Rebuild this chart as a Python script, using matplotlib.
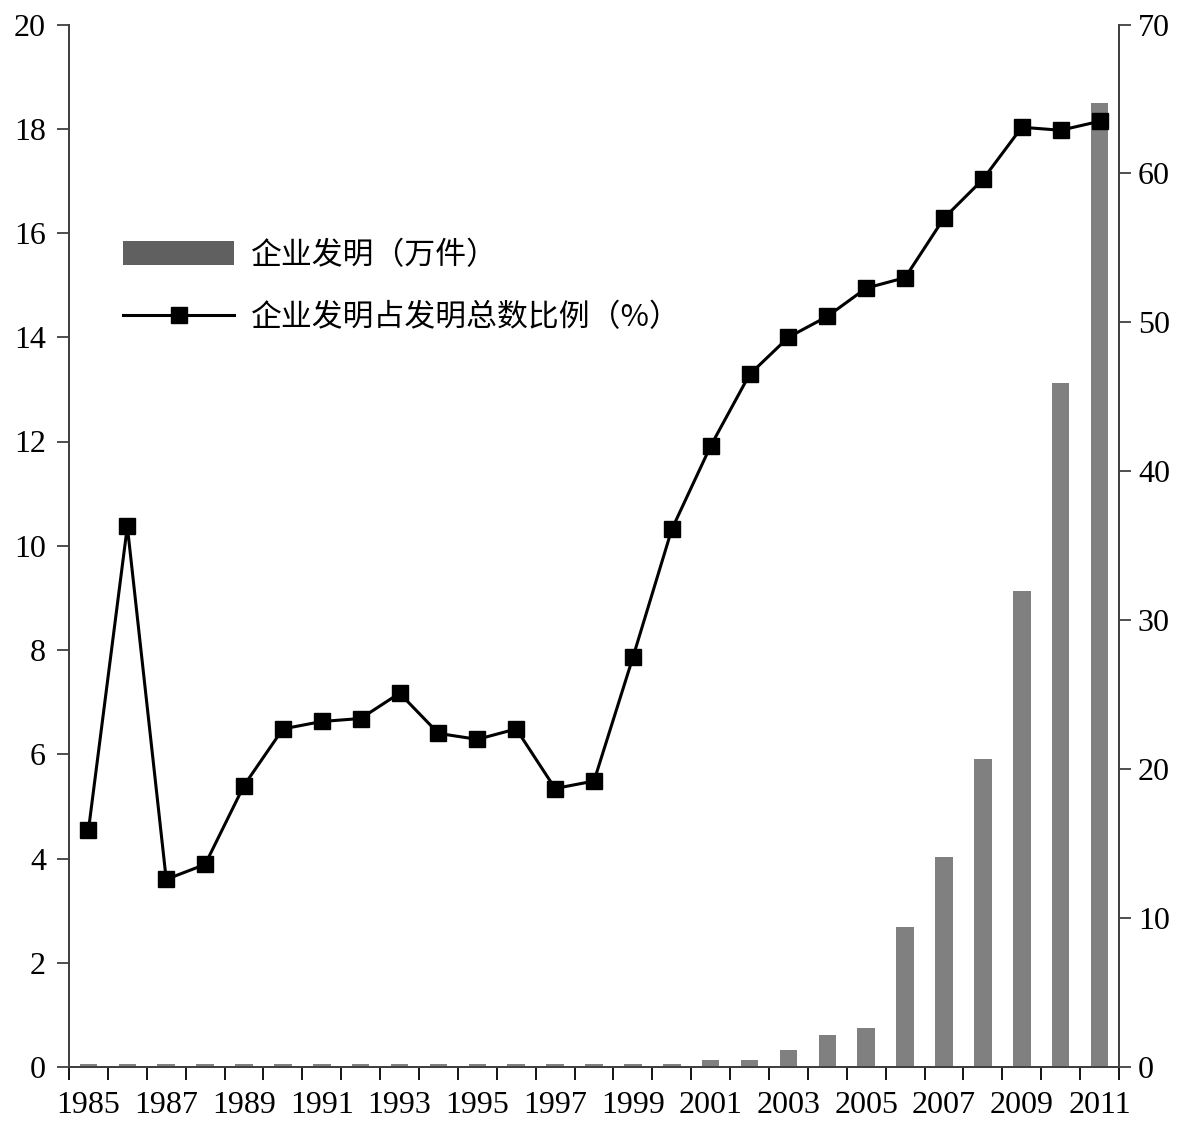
import matplotlib
matplotlib.use("Agg")
import matplotlib.pyplot as plt
from matplotlib.patches import Patch
from matplotlib.lines import Line2D

plt.rcParams['font.family'] = ['Liberation Serif', 'Noto Sans CJK SC', 'DejaVu Sans']

years = list(range(1985, 2012))
invention_wan = [0.06, 0.06, 0.06, 0.06, 0.06, 0.06, 0.06, 0.06, 0.06, 0.06,
                 0.06, 0.06, 0.06, 0.06, 0.06, 0.06, 0.13, 0.13, 0.33, 0.61,
                 0.75, 2.68, 4.02, 5.91, 9.13, 13.13, 18.5]
share_pct = [15.9, 36.3, 12.6, 13.6, 18.9, 22.7, 23.2, 23.4, 25.1, 22.4,
             22.0, 22.7, 18.7, 19.2, 27.5, 36.1, 41.7, 46.5, 49.0, 50.4,
             52.3, 53.0, 57.0, 59.6, 63.1, 62.9, 63.5]
label_bar = "企业发明（万件）"
label_line = "企业发明占发明总数比例（%）"
left_ticks = [0, 2, 4, 6, 8, 10, 12, 14, 16, 18, 20]
right_ticks = [0, 10, 20, 30, 40, 50, 60, 70]

fig = plt.figure(figsize=(11.93, 11.39), dpi=100)
ax = fig.add_axes([69/1193, 1 - 1067/1139, (1119 - 69)/1193, (1067 - 24.5)/1139])
ax2 = ax.twinx()

x = list(range(len(years)))
bar_color = '#808080'
ax.bar(x, invention_wan, width=0.45, color=bar_color, zorder=2)
ax2.plot(x, share_pct, color='black', lw=2.2, marker='s', markersize=12,
         markerfacecolor='black', markeredgecolor='black', zorder=3)

ax.set_xlim(-0.5, len(years) - 0.5)
ax.set_ylim(0, 20)
ax2.set_ylim(0, 70)

spine_color = '#404040'
for a in (ax, ax2):
    a.spines['top'].set_visible(False)
    for s in ('left', 'right', 'bottom'):
        a.spines[s].set_color(spine_color)
        a.spines[s].set_linewidth(1.3)

# x ticks: boundaries as major (no label), labels at category centers
ax.set_xticks([i - 0.5 for i in range(len(years) + 1)])
ax.set_xticklabels([])
ax.tick_params(axis='x', which='major', direction='out', length=9, width=1.3, color='black')
ax.set_xticks(x[::2], minor=True)
ax.set_xticklabels([str(y) for y in years[::2]], minor=True)
ax.tick_params(axis='x', which='minor', length=0, pad=17, labelsize=23)

ax.set_yticks(left_ticks)
ax.set_yticklabels([str(t) for t in left_ticks])
ax.tick_params(axis='y', direction='out', length=8.6, width=1.3, color=spine_color,
               pad=8, labelsize=23)
ax2.set_yticks(right_ticks)
ax2.set_yticklabels([str(t) for t in right_ticks])
ax2.tick_params(axis='y', direction='out', length=8.6, width=1.3, color=spine_color,
                pad=5, labelsize=23)

handles = [Patch(facecolor='#606060', edgecolor='none'),
           Line2D([0], [0], color='black', lw=2.2, marker='s', markersize=12)]
leg = ax2.legend(handles, [label_bar, label_line], loc='upper left',
                 bbox_to_anchor=((123 - 69) / 1050, (1067 - 240) / 1042.5),
                 frameon=False, handlelength=3.6, handleheight=0.8,
                 handletextpad=0.55, labelspacing=1.0, borderaxespad=0, borderpad=0,
                 prop={'family': ['Noto Sans CJK SC'], 'size': 22.2})

fig.savefig('out.png', dpi=100)
